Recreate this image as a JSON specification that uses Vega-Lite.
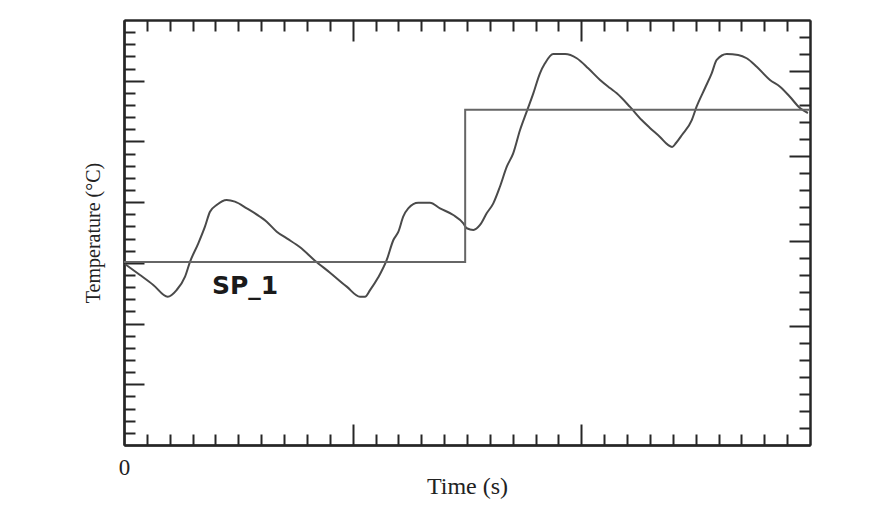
{
"$schema":"https://vega.github.io/schema/vega-lite/v6.json",
"width":686,"height":425,
"autosize":{"type":"none"},
"padding":{"left":124,"top":20,"right":69,"bottom":63},
"background":"white",
"config":{"view":{"stroke":null},"axis":{"grid":false,"domainColor":"#262626","domainWidth":2,"tickColor":"#262626","tickWidth":2,"labels":false,"title":null}},
"datasets":{
"temp":[
{"t":0.04,"temp":14.91},{"t":0.70,"temp":14.00},{"t":1.28,"temp":13.18},{"t":1.91,"temp":12.21},{"t":2.30,"temp":12.76},{"t":2.67,"temp":13.86},{"t":2.89,"temp":15.10},{"t":3.25,"temp":16.61},{"t":3.54,"temp":17.98},{"t":3.76,"temp":19.21},{"t":4.05,"temp":19.76},{"t":4.49,"temp":20.17},{"t":4.85,"temp":20.04},{"t":5.37,"temp":19.49},{"t":5.95,"temp":18.80},{"t":6.24,"temp":18.39},{"t":6.68,"temp":17.57},{"t":7.12,"temp":17.02},{"t":7.70,"temp":16.28},{"t":8.35,"temp":15.18},{"t":9.01,"temp":14.19},{"t":9.74,"temp":13.04},{"t":10.32,"temp":12.21},{"t":10.54,"temp":12.21},{"t":10.76,"temp":12.76},{"t":11.12,"temp":13.81},{"t":11.49,"temp":15.24},{"t":11.78,"temp":16.88},{"t":12.00,"temp":17.57},{"t":12.21,"temp":18.80},{"t":12.43,"temp":19.49},{"t":12.87,"temp":19.95},{"t":13.38,"temp":19.95},{"t":13.82,"temp":19.49},{"t":14.40,"temp":18.94},{"t":14.84,"temp":18.26},{"t":14.99,"temp":17.85},{"t":15.28,"temp":17.71},{"t":15.57,"temp":18.12},{"t":15.86,"temp":19.08},{"t":16.15,"temp":19.90},{"t":16.44,"temp":21.27},{"t":16.74,"temp":22.92},{"t":17.02,"temp":24.02},{"t":17.32,"temp":25.94},{"t":17.61,"temp":27.45},{"t":17.90,"temp":28.96},{"t":18.19,"temp":30.61},{"t":18.41,"temp":31.43},{"t":18.77,"temp":32.20},{"t":19.29,"temp":32.20},{"t":19.80,"temp":31.85},{"t":20.30,"temp":31.02},{"t":20.82,"temp":30.06},{"t":21.25,"temp":29.40},{"t":21.55,"temp":28.96},{"t":22.13,"temp":27.84},{"t":22.64,"temp":26.76},{"t":23.00,"temp":26.11},{"t":23.44,"temp":25.37},{"t":23.79,"temp":24.71},{"t":23.97,"temp":24.54},{"t":24.14,"temp":24.87},{"t":24.40,"temp":25.53},{"t":24.83,"temp":26.76},{"t":25.04,"temp":27.86},{"t":25.41,"temp":29.40},{"t":25.70,"temp":30.61},{"t":25.92,"temp":31.71},{"t":26.36,"temp":32.20},{"t":26.86,"temp":32.12},{"t":27.23,"temp":31.85},{"t":27.67,"temp":31.15},{"t":28.25,"temp":30.06},{"t":28.69,"temp":29.51},{"t":29.12,"temp":28.68},{"t":29.56,"temp":27.75},{"t":29.91,"temp":27.34}
],
"sp":[{"t":0,"sp":15.07,"i":0},{"t":14.92,"sp":15.07,"i":1},{"t":14.92,"sp":27.6,"i":2},{"t":30,"sp":27.6,"i":3}],
"lab":[{"t":3.85,"v":12.45,"text":"SP_1"}]
},
"layer":[
{"data":{"name":"temp"},"mark":{"type":"line","color":"#4a4a4a","strokeWidth":2,"interpolate":"monotone"},
 "encoding":{
  "x":{"field":"t","type":"quantitative","scale":{"domain":[0,30],"nice":false,"zero":false},"axis":{"orient":"bottom","values":[1,2,3,4,5,6,7,8,9,11,12,13,14,15,16,17,18,19,21,22,23,24,25,26,27,28,29],"tickSize":-11}},
  "y":{"field":"temp","type":"quantitative","scale":{"domain":[0,35],"nice":false,"zero":false},"axis":{"orient":"left","values":[1,2,3,4,6,7,8,9,11,12,13,14,16,17,18,19,21,22,23,24,26,27,28,29,31,32,33,34],"tickSize":-11}}}},
{"data":{"name":"sp"},"mark":{"type":"line","color":"#666666","strokeWidth":2},
 "encoding":{
  "x":{"field":"t","type":"quantitative","scale":{"domain":[0,30],"nice":false,"zero":false},"axis":{"orient":"bottom","values":[10,20],"tickSize":-21}},
  "y":{"field":"sp","type":"quantitative","scale":{"domain":[0,35],"nice":false,"zero":false},"axis":{"orient":"left","values":[5,10,15,20,25,30],"tickSize":-20}},
  "order":{"field":"i","type":"quantitative"}}},
{"data":{"name":"lab"},"mark":{"type":"text","font":"DejaVu Sans","fontWeight":"bold","fontSize":25,"align":"left","baseline":"alphabetic","color":"#1a1a1a"},
 "encoding":{
  "x":{"field":"t","type":"quantitative","scale":{"domain":[0,30],"nice":false,"zero":false},"axis":{"orient":"bottom","values":[0],"ticks":false,"labels":true,"labelFlush":false,"labelExpr":"datum.value == 0 ? '0' : ''","labelFont":"Liberation Serif","labelFontSize":23,"labelColor":"#222222","labelPadding":11,"title":"Time (s)","titleFont":"Liberation Serif","titleFontSize":24,"titleFontWeight":"normal","titleColor":"#222222","titlePadding":-5}},
  "y":{"field":"v","type":"quantitative","scale":{"domain":[0,35],"nice":false,"zero":false},"axis":{"orient":"left","values":[],"ticks":false,"title":"Temperature (°C)","titleFont":"Liberation Serif","titleFontSize":20,"titleFontWeight":"normal","titleColor":"#222222","titlePadding":21}},
  "text":{"field":"text"}}},
{"data":{"name":"temp"},"mark":{"type":"point","opacity":0},
 "encoding":{
  "x":{"field":"t","type":"quantitative","scale":{"domain":[0,30],"nice":false,"zero":false},"axis":{"orient":"top","values":[1,2,3,4,5,6,7,8,9,11,12,13,14,15,16,17,18,19,21,22,23,24,25,26,27,28,29],"tickSize":-11}},
  "y":{"field":"temp","type":"quantitative","scale":{"domain":[0,25],"nice":false,"zero":false},"axis":{"orient":"right","values":[1,2,3,4,5,6,8,9,10,11,13,14,15,16,18,19,20,21,23,24],"tickSize":-11}}}},
{"data":{"name":"temp"},"mark":{"type":"point","opacity":0},
 "encoding":{
  "x":{"field":"t","type":"quantitative","scale":{"domain":[0,30],"nice":false,"zero":false},"axis":{"orient":"top","values":[10,20],"tickSize":-21}},
  "y":{"field":"temp","type":"quantitative","scale":{"domain":[0,25],"nice":false,"zero":false},"axis":{"orient":"right","values":[7,12,17,22],"tickSize":-21}}}}
],
"resolve":{"scale":{"x":"independent","y":"independent"},"axis":{"x":"independent","y":"independent"}}
}
